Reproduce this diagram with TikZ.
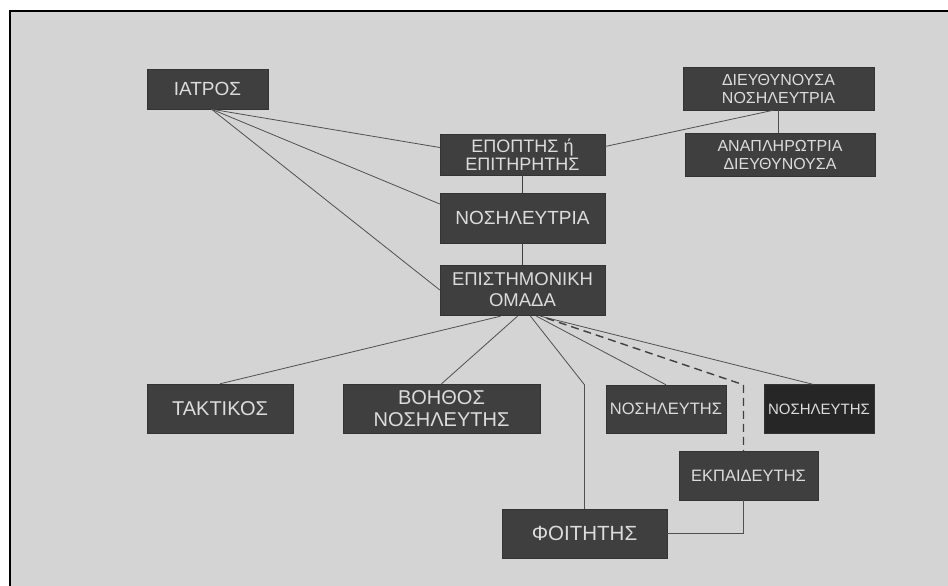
\documentclass[tikz,border=0pt]{standalone}
\usepackage{fontspec}
\setmainfont{Liberation Sans}
\usetikzlibrary{calc}
\definecolor{paper}{HTML}{D4D4D4}
\definecolor{boxgray}{HTML}{3F3F3F}
\definecolor{boxdark}{HTML}{262626}
\definecolor{boxtext}{HTML}{DCDCDC}
\definecolor{wire}{HTML}{505050}
\tikzset{%
    orgbox/.style n args={4}{%
        draw=black!80, fill=boxgray, text=boxtext, align=center,
        inner sep=0pt, minimum width=#1, minimum height=#2,
        font=\fontsize{#3}{#4}\selectfont
    },
    link/.style={draw=wire, line width=0.8pt},
    stem/.style={draw=black!75, line width=1.8pt},
    dashlink/.style={draw=black!75, line width=1.4pt, dash pattern=on 8pt off 5pt}
}

\begin{document}
\begin{tikzpicture}[x=1pt, y=-1pt]
% paper and frame
\useasboundingbox (0,0) rectangle (948,586);
\fill[white] (0,0) rectangle (948,586);
\fill[paper] (10,11) rectangle (948,586);
\draw[black, line width=2pt] (10,586) -- (10,11) -- (948,11);

% boxes
\node[orgbox={121pt}{40pt}{19pt}{21pt}] (iatros) at (207.5,89) {ΙΑΤΡΟΣ};
\node[orgbox={191pt}{43pt}{16pt}{18pt}] (dieuth) at (778.5,88.5) {ΔΙΕΥΘΥΝΟΥΣΑ\\ΝΟΣΗΛΕΥΤΡΙΑ};
\node[orgbox={190pt}{43pt}{16pt}{18pt}] (anapl) at (780,154.5) {ΑΝΑΠΛΗΡΩΤΡΙΑ\\ΔΙΕΥΘΥΝΟΥΣΑ};
\node[orgbox={165pt}{41pt}{18pt}{18pt}] (epoptis) at (522.5,154.5) {ΕΠΟΠΤΗΣ ή\\ΕΠΙΤΗΡΗΤΗΣ};
\node[orgbox={165pt}{50pt}{19pt}{21pt}] (nosil) at (522.5,218) {ΝΟΣΗΛΕΥΤΡΙΑ};
\node[orgbox={165pt}{50pt}{18.5pt}{21pt}] (epist) at (522.5,290) {ΕΠΙΣΤΗΜΟΝΙΚΗ\\ΟΜΑΔΑ};
\node[orgbox={146pt}{49pt}{20pt}{22pt}] (taktikos) at (220,408.5) {ΤΑΚΤΙΚΟΣ};
\node[orgbox={197pt}{49pt}{20pt}{22pt}] (voithos) at (441.5,408.5) {ΒΟΗΘΟΣ\\ΝΟΣΗΛΕΥΤΗΣ};
\node[orgbox={120pt}{48pt}{16.5pt}{18pt}] (nos1) at (666,409) {ΝΟΣΗΛΕΥΤΗΣ};
\node[orgbox={110pt}{49pt}{15pt}{17pt}, fill=boxdark] (nos2) at (819,409) {ΝΟΣΗΛΕΥΤΗΣ};
\node[orgbox={139pt}{49pt}{16.5pt}{18pt}] (ekp) at (748.5,475.5) {ΕΚΠΑΙΔΕΥΤΗΣ};
\node[orgbox={165pt}{49pt}{20.5pt}{22pt}] (foit) at (584.5,533.5) {ΦΟΙΤΗΤΗΣ};

% bends
\coordinate (foitbend) at (foit.north |- nos1.north);
\coordinate (ekpin) at ($(ekp.north)+(-5,0)$);
\coordinate (ekpbend) at (ekpin |- nos1.north);
\coordinate (ekpout) at ($(ekp.south)+(-5,0)$);

% lines
\draw[link] ($(iatros.south)+(4,0)$) -- ($(epoptis.west)+(0,-7)$);
\draw[link] ($(iatros.south)+(4,0)$) -- ($(nosil.west)+(0,-14)$);
\draw[link] ($(iatros.south)+(4,0)$) -- (epist.west);
\draw[link] ($(epoptis.east)+(0,-8)$) -- ($(dieuth.south)+(-5,0)$);
\draw[link] (dieuth.south) -- (dieuth.south |- anapl.north);
\draw[stem] (epoptis.south) -- (nosil.north);
\draw[stem] (nosil.south) -- (epist.north);
\draw[link] ($(epist.south)+(-22,1)$) -- (taktikos.north);
\draw[link] ($(epist.south)+(-5,1)$) -- (voithos.north);
\draw[link] ($(epist.south)+(8,1)$) -- (foitbend) -- (foit.north);
\draw[link] ($(epist.south)+(14,1)$) -- (nos1.north);
\draw[link] ($(epist.south)+(18,1)$) -- ($(nos2.north)+(-6,0)$);
\draw[dashlink] ($(epist.south)+(24,3)$) -- (ekpbend) -- (ekpin);
\draw[link] (ekpout) |- (foit.east);
\end{tikzpicture}
\end{document}
